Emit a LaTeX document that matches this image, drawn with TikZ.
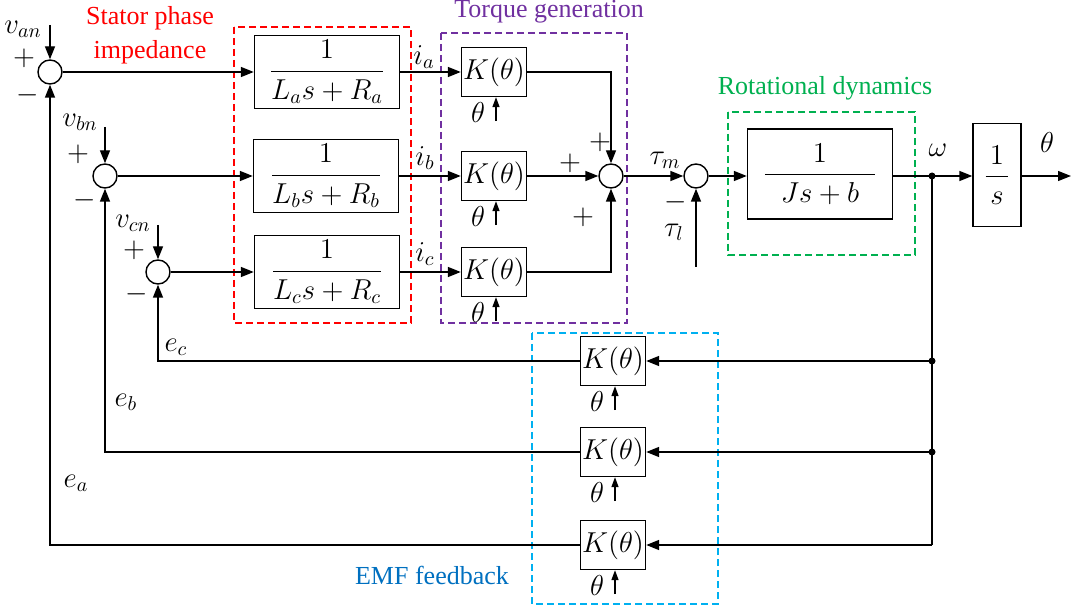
\documentclass[tikz,border=0pt]{standalone}
\usepackage{amsmath}
\usepackage{fontspec}
\setmainfont{Liberation Serif}
\usepackage{tikz}
\usetikzlibrary{arrows.meta, positioning, calc}
\definecolor{statorred}{RGB}{255,0,0}
\definecolor{torquepurple}{RGB}{112,48,160}
\definecolor{rotgreen}{RGB}{0,176,80}
\definecolor{emfcyan}{RGB}{0,176,240}
\definecolor{emfblue}{RGB}{0,112,192}
\newcommand{\blkfrac}[2]{$\dfrac{\rule[-2pt]{0pt}{3pt}#1}{\rule{0pt}{12pt}#2}$}

\begin{document}
\begin{tikzpicture}[x=0.5pt, y=-0.5pt, font=\fontsize{14.5}{17}\selectfont,
  line width=0.7pt,
  sig/.style={-{Triangle[length=6.5pt,width=5pt]}},
  thsig/.style={-{Triangle[length=5pt,width=3.5pt]}},
  sumj/.style={draw, circle, minimum size=12pt, inner sep=0pt},
  zblk/.style={draw, rectangle, inner sep=0pt, minimum width=72.5pt, minimum height=36.5pt},
  kblk/.style={draw, rectangle, inner sep=0pt, minimum width=32.5pt, minimum height=24.5pt},
  grp/.style={draw, dash pattern=on 3.5pt off 2pt, line width=0.6pt},
  grptitle/.style={font=\fontsize{13}{17}\selectfont, align=center},
  jdot/.style={circle, fill, inner sep=0pt, minimum size=3.5pt}]
  \useasboundingbox (0,0) rectangle (1073,610);
  % Stator phase impedance
  \draw[grp, statorred] (234,27) rectangle (411,323);
  \node[grptitle, text=statorred] (tstator) at (150,35) {Stator phase\\impedance};
  \node[sumj] (sa) at (50,72) {};
  \node[sumj] (sb) at (105,176) {};
  \node[sumj] (sc) at (158,272) {};
  \node[zblk] (za) at (327,72) {\blkfrac{1}{L_a s + R_a}};
  \node[zblk] (zb) at (326,176) {\blkfrac{1}{L_b s + R_b}};
  \node[zblk] (zc) at (327,272) {\blkfrac{1}{L_c s + R_c}};
  \coordinate (van) at (50,25);
  \coordinate (vbn) at (105,127);
  \coordinate (vcn) at (158,225);
  \node (lvan) at (23,29) {$v_{an}$};
  \node (lvbn) at (80,122) {$v_{bn}$};
  \node (lvcn) at (133,223) {$v_{cn}$};
  \node (pa) at (24,58) {$+$};
  \node (ma) at (28,95) {$-$};
  \node (pb) at (78,154) {$+$};
  \node (mb) at (85,200) {$-$};
  \node (pc) at (134,250) {$+$};
  \node (mc) at (137,294) {$-$};
  \draw[sig] (van) -- (sa.north);
  \draw[sig] (vbn) -- (sb.north);
  \draw[sig] (vcn) -- (sc.north);
  \draw[sig] (sa.east) -- (za.west);
  \draw[sig] (sb.east) -- (zb.west);
  \draw[sig] (sc.east) -- (zc.west);
  % Torque generation
  \draw[grp, torquepurple] (441,33) rectangle (627,323);
  \node[grptitle, text=torquepurple] (ttorque) at (549,12) {Torque generation};
  \node[kblk] (ka) at (494,72) {$K(\theta)$};
  \node[kblk] (kb) at (494,176) {$K(\theta)$};
  \node[kblk] (kc) at (494,272) {$K(\theta)$};
  \node[sumj] (st) at (611,176) {};
  \node (lia) at (424,57) {$i_a$};
  \node (lib) at (425,158) {$i_b$};
  \node (lic) at (425,254) {$i_c$};
  \node (pta) at (600,142) {$+$};
  \node (ptb) at (570,163) {$+$};
  \node (ptc) at (583,217) {$+$};
  \draw[sig] (za.east) -- (ka.west);
  \draw[sig] (zb.east) -- (kb.west);
  \draw[sig] (zc.east) -- (kc.west);
  \draw[sig] (ka.east) -| (st.north);
  \draw[sig] (kb.east) -- (st.west);
  \draw[sig] (kc.east) -| (st.south);
  % Rotational dynamics
  \draw[grp, rotgreen] (728,112) rectangle (915,255);
  \node[grptitle, text=rotgreen] (trot) at (825,88) {Rotational dynamics};
  \node[sumj] (sl) at (696,176) {};
  \node[draw, rectangle, inner sep=0pt, minimum width=72.5pt, minimum height=45pt] (jb) at (820,174)
    {\blkfrac{1}{\;\;Js + b\;\;}};
  \node[draw, rectangle, inner sep=0pt, minimum width=24pt, minimum height=51.5pt] (ib) at (997,175)
    {\blkfrac{1}{\,s\,}};
  \coordinate (tl) at (696,267);
  \coordinate (w) at (932,176);
  \coordinate (out) at (1071,176);
  \node (ltm) at (665,160) {$\tau_m$};
  \node (ltl) at (674,232) {$\tau_l$};
  \node (ml) at (676,202) {$-$};
  \node (lw) at (938,150) {$\omega$};
  \node (lth) at (1047,143) {$\theta$};
  \draw[sig] (st.east) -- (sl.west);
  \draw[sig] (tl) -- (sl.south);
  \draw[sig] (sl.east) -- (sl.east -| jb.west);
  \draw[sig] (jb.east |- w) -- (w -| ib.west);
  \draw[sig] (w -| ib.east) -- (out);
  % EMF feedback
  \draw[grp, emfcyan] (532,333) rectangle (718,604);
  \node[grptitle, text=emfblue] (temf) at (432,575) {EMF feedback};
  \node[kblk] (fc) at (613,361) {$K(\theta)$};
  \node[kblk] (fb) at (613,452) {$K(\theta)$};
  \node[kblk] (fa) at (613,545) {$K(\theta)$};
  \coordinate (wc) at (932,361);
  \coordinate (wb) at (932,452);
  \coordinate (wa) at (932,545);
  \node (lec) at (176,347) {$e_c$};
  \node (leb) at (126,402) {$e_b$};
  \node (lea) at (76,483) {$e_a$};
  \draw (w) -- (wa);
  \node[jdot] at (w) {};
  \node[jdot] at (wc) {};
  \node[jdot] at (wb) {};
  \draw[sig] (wc) -- (fc.east);
  \draw[sig] (wb) -- (fb.east);
  \draw[sig] (wa) -- (fa.east);
  \draw[sig] (fc.west) -| (sc.south);
  \draw[sig] (fb.west) -| (sb.south);
  \draw[sig] (fa.west) -| (sa.south);
  % theta inputs of the K blocks
  \foreach \k in {ka,kb,kc,fa,fb,fc} {
    \coordinate (\k th) at ([xshift=1pt, yshift=-12pt]\k.south);
    \draw[thsig] (\k th) -- (\k th |- \k.south);
    \node (\k tl) at ([xshift=-9pt, yshift=4.5pt]\k th) {$\theta$};
  }
\end{tikzpicture}
\end{document}
